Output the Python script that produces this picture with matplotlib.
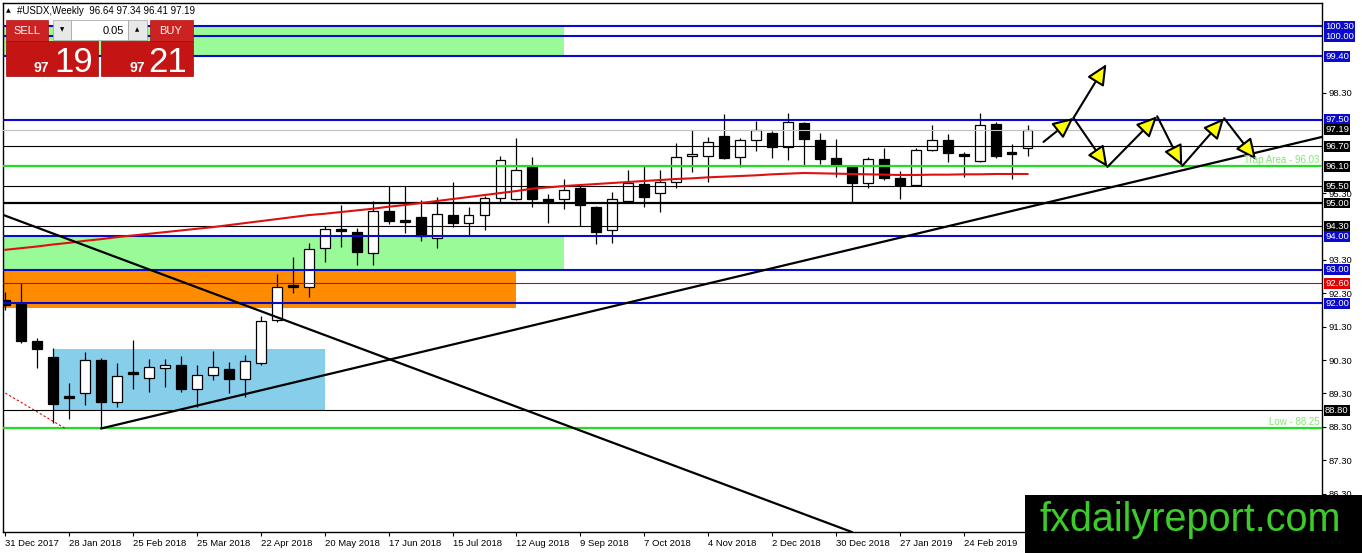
import matplotlib
matplotlib.use('Agg')
import matplotlib.pyplot as plt
from matplotlib.patches import Rectangle
import numpy as np

W, H = 1362, 553
FONT = 'Liberation Sans'

# weekly candles, index 0 = week of 31 Dec 2017
opens = [92.10, 91.98, 90.87, 90.39, 89.22, 89.31, 90.30, 89.04, 89.93, 89.76,
         90.06, 90.15, 89.43, 89.85, 90.03, 89.73, 90.21, 91.50, 92.53, 92.49,
         93.65, 94.22, 94.13, 93.50, 94.76, 94.46, 94.58, 93.95, 94.64, 94.40,
         94.64, 95.15, 95.12, 96.08, 95.10, 95.12, 95.45, 94.88, 94.19, 95.06,
         95.57, 95.30, 95.63, 96.41, 96.41, 97.01, 96.38, 96.89, 97.10, 96.68,
         97.40, 96.89, 96.35, 96.11, 95.60, 96.32, 95.75, 95.54, 96.59, 96.89,
         96.47, 96.26, 97.37, 96.53, 96.64]
highs = [92.35, 92.60, 90.96, 90.66, 89.61, 90.54, 90.35, 90.21, 90.90, 90.33,
         90.33, 90.42, 90.15, 90.57, 90.24, 90.45, 91.62, 92.87, 93.38, 93.80,
         94.31, 94.94, 94.25, 95.06, 95.51, 95.51, 95.09, 95.18, 95.63, 94.88,
         95.20, 96.41, 96.95, 96.38, 95.27, 95.72, 95.50, 94.91, 95.33, 95.99,
         96.14, 95.99, 96.80, 97.19, 96.98, 97.66, 96.95, 97.46, 97.16, 97.69,
         97.43, 97.10, 96.92, 96.14, 96.38, 96.65, 95.96, 96.65, 97.34, 97.07,
         96.53, 97.69, 97.43, 96.77, 97.34]
lows = [91.80, 90.80, 90.06, 88.41, 88.53, 88.95, 88.25, 88.89, 89.43, 89.34,
        89.49, 89.34, 88.89, 89.70, 89.31, 89.19, 90.15, 91.44, 92.31, 92.19,
        93.23, 93.68, 93.14, 93.14, 94.37, 94.10, 93.86, 93.65, 94.28, 94.01,
        94.19, 95.00, 95.09, 94.88, 94.40, 94.82, 94.31, 93.77, 93.80, 95.00,
        94.88, 94.73, 95.45, 95.93, 95.63, 96.32, 96.08, 96.56, 96.35, 96.29,
        96.14, 96.17, 95.78, 95.00, 95.45, 95.69, 95.12, 95.51, 96.56, 96.23,
        95.78, 96.23, 96.35, 95.72, 96.41]
closes = [91.95, 90.87, 90.63, 88.98, 89.17, 90.30, 89.04, 89.82, 89.88, 90.09,
          90.15, 89.43, 89.85, 90.09, 89.73, 90.27, 91.47, 92.49, 92.48, 93.62,
          94.22, 94.16, 93.53, 94.76, 94.46, 94.43, 94.01, 94.67, 94.40, 94.64,
          95.15, 96.29, 95.99, 95.12, 95.06, 95.39, 94.94, 94.13, 95.12, 95.60,
          95.18, 95.63, 96.38, 96.47, 96.83, 96.35, 96.89, 97.19, 96.68, 97.43,
          96.92, 96.32, 96.14, 95.60, 96.32, 95.75, 95.54, 96.59, 96.89, 96.50,
          96.41, 97.34, 96.41, 96.47, 97.19]
ma = [93.60, 93.65, 93.70, 93.76, 93.81, 93.87, 93.92, 93.98, 94.03, 94.08,
      94.13, 94.18, 94.23, 94.28, 94.34, 94.40, 94.46, 94.52, 94.58, 94.64,
      94.68, 94.73, 94.78, 94.83, 94.89, 94.94, 95.00, 95.06, 95.12, 95.18,
      95.24, 95.30, 95.36, 95.43, 95.47, 95.51, 95.54, 95.57, 95.60, 95.63,
      95.66, 95.69, 95.72, 95.74, 95.77, 95.79, 95.81, 95.83, 95.86, 95.88,
      95.90, 95.89, 95.88, 95.87, 95.86, 95.85, 95.84, 95.84, 95.85, 95.85,
      95.86, 95.86, 95.87, 95.87, 95.87]

date_labels = ['31 Dec 2017', '28 Jan 2018', '25 Feb 2018', '25 Mar 2018', '22 Apr 2018',
               '20 May 2018', '17 Jun 2018', '15 Jul 2018', '12 Aug 2018', '9 Sep 2018',
               '7 Oct 2018', '4 Nov 2018', '2 Dec 2018', '30 Dec 2018', '27 Jan 2019',
               '24 Feb 2019']

# horizontal levels
blue_levels = [100.30, 100.00, 99.40, 97.50, 94.00, 93.00, 92.00]
thin_black_levels = [96.70, 95.50, 94.30, 88.80]
thick_black_level = 95.00
green_levels = [96.10, 88.25]
red_level = 92.60
bid_level = 97.19

# price boxes on the right scale
box_prices = [100.30, 100.00, 99.40, 97.50, 97.19, 96.70, 96.10, 95.50, 95.00,
              94.30, 94.00, 93.00, 92.60, 92.00, 88.80]
box_colors = ['#0a0acc', '#0a0acc', '#0a0acc', '#0a0acc', 'black', 'black', 'black',
              'black', 'black', 'black', '#0a0acc', '#0a0acc', '#e00000', '#0a0acc', 'black']

# plain scale ticks (the ones not hidden under a box)
scale_ticks = [86.30, 87.30, 88.30, 89.30, 90.30, 91.30, 92.30, 93.30, 95.30, 98.30]

# zones: (x0, x1, price_lo, price_hi)
green_zone_top = (-1, 35, 99.40, 100.30)
green_zone_mid = (-1, 35, 93.00, 94.00)
orange_zone = (-1, 32, 91.85, 93.00)
blue_zone = (3.06, 20.0, 88.80, 90.63)

# trend lines
down_line = [(0, 94.62), (53, 85.15)]
up_line = [(6, 88.25), (82.44, 96.98)]
red_dots = [(0, 89.31), (3.75, 88.25)]

# projected path with arrows
path_main = [(65.0, 96.83), (66.88, 97.55), (69.0, 96.08), (72.12, 97.60),
             (73.69, 96.11), (76.31, 97.54), (78.31, 96.30)]
path_break = [(66.88, 97.55), (68.94, 99.16)]

fig = plt.figure(figsize=(W / 100, H / 100), dpi=100)
ax = fig.add_axes([3 / W, 21 / H, 1319 / W, 529 / H])
ax.set_xlim(-0.15, 82.44)
ax.set_ylim(85.15, 100.99)

for x0, x1, lo, hi in [green_zone_top, green_zone_mid]:
    ax.add_patch(Rectangle((x0, lo), x1 - x0, hi - lo, fc='#98fb98', ec='none', zorder=1))
x0, x1, lo, hi = orange_zone
ax.add_patch(Rectangle((x0, lo), x1 - x0, hi - lo, fc='#ff8c00', ec='none', zorder=1))
x0, x1, lo, hi = blue_zone
ax.add_patch(Rectangle((x0, lo), x1 - x0, hi - lo, fc='#87ceeb', ec='none', zorder=1))

# candles
idx = np.arange(len(opens))
o, h, l, c = map(np.array, (opens, highs, lows, closes))
ax.vlines(idx, l, h, color='black', lw=0.9, zorder=2)
body_lo = np.minimum(o, c)
body_h = np.maximum(np.abs(c - o), 0.06)
fills = ['white' if cc > oo else 'black' for oo, cc in zip(o, c)]
ax.bar(idx, body_h, bottom=body_lo, width=0.62, color=fills, edgecolor='black',
       lw=0.9, zorder=3)

# horizontal lines
ax.axhline(bid_level, color='#c0c0c0', lw=0.8, zorder=4)
for lv in thin_black_levels:
    ax.axhline(lv, color='black', lw=0.8, zorder=4)
ax.axhline(thick_black_level, color='black', lw=1.6, zorder=4)
ax.axhline(red_level, color='#e00000', lw=0.8, zorder=4)
for lv in blue_levels:
    ax.axhline(lv, color='#0a0acc', lw=1.5, zorder=4)
for lv in green_levels:
    ax.axhline(lv, color='#22dd22', lw=1.6, zorder=4)

ax.plot(idx, ma, color='#dd1111', lw=1.5, zorder=5)

# trend lines
ax.axline(down_line[0], down_line[1], color='black', lw=1.6, zorder=5)
ax.plot(*zip(*up_line), color='black', lw=1.6, zorder=5)
ax.plot(*zip(*red_dots), color='#dd0000', lw=0.8, ls=(0, (2, 2)), zorder=5)

arrow_kw = dict(arrowstyle='-|>,head_length=0.9,head_width=0.42', fc='yellow', ec='black',
                lw=1.5, mutation_scale=14, shrinkA=0, shrinkB=0)
for pts in [path_main, path_break]:
    for p0, p1 in zip(pts[:-1], pts[1:]):
        ax.annotate('', xy=p1, xytext=p0, arrowprops=arrow_kw, zorder=6)

ax.text(82.3, 96.13, 'Trap Area - 96.03', color='#80e870', fontsize=7, family=FONT,
        ha='right', va='bottom', zorder=6)
ax.text(82.3, 88.28, 'Low - 88.25', color='#80e870', fontsize=7, family=FONT,
        ha='right', va='bottom', zorder=6)

# axes styling
ax.set_xticks(range(0, 61, 4))
ax.set_xticklabels(date_labels, ha='left', fontsize=6.8, family=FONT)
ax.set_yticks(scale_ticks)
ax.set_yticklabels([f'{v:.2f}' for v in scale_ticks], fontsize=6.8, family=FONT)
ax.yaxis.tick_right()
ax.tick_params(axis='y', length=3, pad=2, width=0.8)
ax.tick_params(axis='x', length=3, pad=2, width=0.8)
for sp in ax.spines.values():
    sp.set_linewidth(1.0)

tr = ax.get_yaxis_transform()
for p, col in zip(box_prices, box_colors):
    ax.text(1.0 + 3 / 1319, p, f'{p:.2f}', transform=tr, color='white', fontsize=6.8,
            family=FONT, ha='left', va='center', zorder=10, clip_on=False,
            bbox=dict(boxstyle='square,pad=0.1', fc=col, ec='none'))


# ---- overlays in pixel coordinates ----
def frect(x0, y0, x1, y1, **kw):
    fig.add_artist(Rectangle((x0 / W, 1 - y1 / H), (x1 - x0) / W, (y1 - y0) / H,
                             transform=fig.transFigure, zorder=20, **kw))


def ftext(x, y, s, **kw):
    fig.text(x / W, 1 - y / H, s, zorder=21, **kw)


ftext(6, 11, '\u25b2', fontsize=4.5, va='center', color='black')
ftext(17, 11, '#USDX,Weekly  96.64 97.34 96.41 97.19', fontsize=7, family=FONT,
      va='center', color='black')

# trade panel
frect(6, 20, 48, 41, fc='#cc2222', ec='#b01010', lw=0.5)
frect(150, 20, 193, 41, fc='#cc2222', ec='#b01010', lw=0.5)
frect(6, 41, 98, 76, fc='#c41414', ec='#a00a0a', lw=0.5)
frect(101, 41, 193, 76, fc='#c41414', ec='#a00a0a', lw=0.5)
frect(53, 20, 71, 40, fc='#e8e8e8', ec='#a0a0a0', lw=0.5)
frect(71, 20, 128, 40, fc='white', ec='#a0a0a0', lw=0.5)
frect(128, 20, 147, 40, fc='#e8e8e8', ec='#a0a0a0', lw=0.5)
ftext(27, 30.5, 'SELL', fontsize=8, family=FONT, color='white', ha='center', va='center')
ftext(171, 30.5, 'BUY', fontsize=8, family=FONT, color='white', ha='center', va='center')
ftext(62, 30, '\u25bc', fontsize=4, color='black', ha='center', va='center')
ftext(137.5, 30, '\u25b2', fontsize=4, color='black', ha='center', va='center')
ftext(124, 30.5, '0.05', fontsize=8, family=FONT, color='black', ha='right', va='center')
ftext(34, 72, '97', fontsize=10, family=FONT, weight='bold', color='white', va='baseline')
ftext(54, 72, '19', fontsize=25, family=FONT, color='white', va='baseline')
ftext(129, 72, '97', fontsize=10, family=FONT, weight='bold', color='white', va='baseline')
ftext(148, 72, '21', fontsize=25, family=FONT, color='white', va='baseline')

# watermark
frect(1025, 495, 1362, 553, fc='black', ec='none')
ftext(1040, 531, 'fxdailyreport.com', fontsize=28.5, family=FONT, color='#3ccc2a',
      va='baseline')

fig.savefig('out.png', dpi=100)
